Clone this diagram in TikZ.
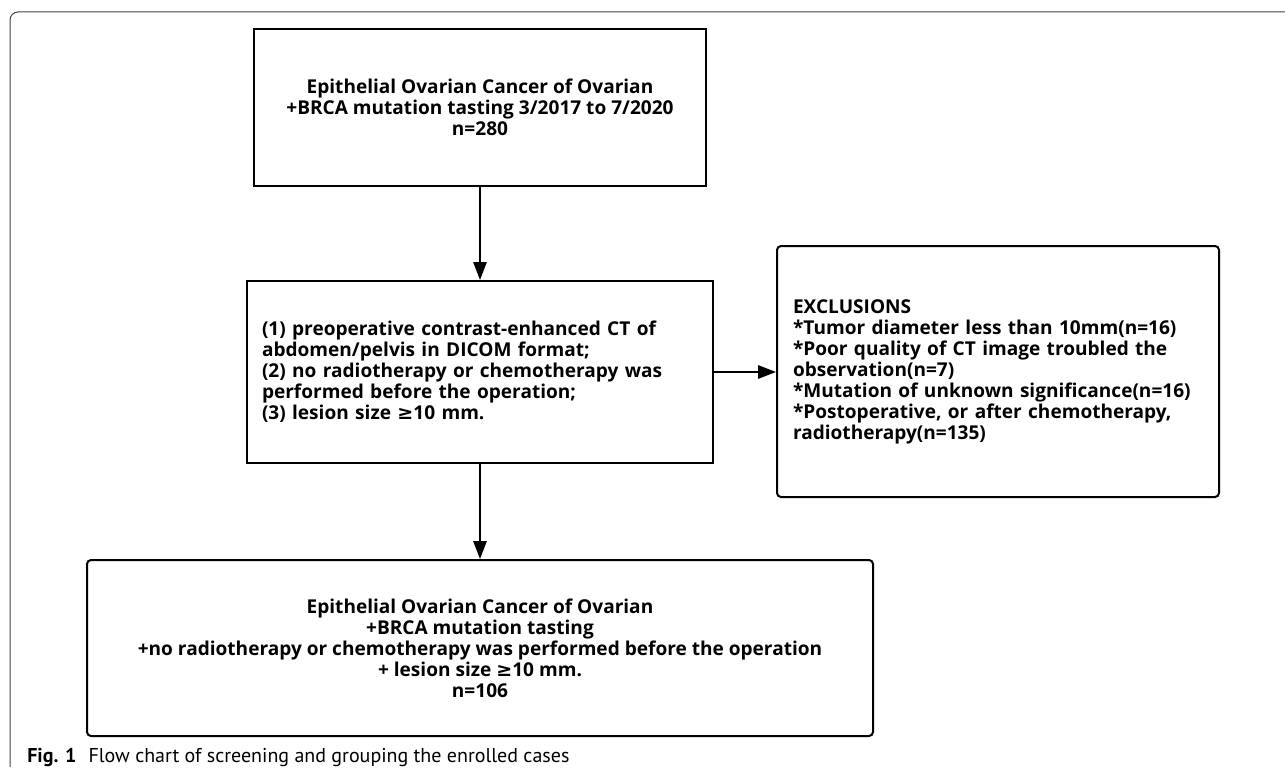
\documentclass[tikz,border=0pt]{standalone}
\usepackage{fontspec}
\setmainfont{Open Sans}
\newfontfamily\capfont{PT Sans}
\newfontfamily\symfont{DejaVu Sans}
\newcommand{\gesym}{{\symfont\bfseries ≥}}
\usepackage{tikz}
\usetikzlibrary{arrows.meta,positioning}

\begin{document}
\begin{tikzpicture}[
  x=0.75pt, y=-0.75pt,
  box/.style={draw, line width=1.5pt, inner sep=0pt, font=\fontsize{14.3}{15.75}\selectfont\bfseries},
  rbox/.style={box, rounded corners=3pt},
  edge/.style={draw, line width=1.5pt, -{Triangle[length=13.5pt,width=10pt]}}
]
\useasboundingbox (0,0) rectangle (1285,774);

% Figure frame
\draw[line width=0.75pt, black!75, rounded corners=6pt] (10,767) -- (10,12) -- (1285,12);

% Boxes
\node[box, minimum width=339pt, minimum height=117.75pt, align=center] (all) at (480,107.5)
  {Epithelial Ovarian Cancer of Ovarian\\+BRCA mutation tasting 3/2017 to 7/2020\\n=280};
\node[box, minimum height=136.5pt, inner xsep=11.25pt, text width=327pt, align=left] (crit) at (480,372)
  {(1) preoperative contrast-enhanced CT of\\abdomen/pelvis in DICOM format;\\(2) no radiotherapy or chemotherapy was\\performed before the operation;\\(3) lesion size \gesym10 mm.};
\node[rbox, minimum height=188.25pt, inner xsep=12pt, text width=307.5pt, align=left] (excl) at (998,371.5)
  {EXCLUSIONS\\{}*Tumor diameter less than 10mm(n=16)\\{}*Poor quality of CT image troubled the\\observation(n=7)\\{}*Mutation of unknown significance(n=16)\\{}*Postoperative, or after chemotherapy,\\radiotherapy(n=135)};
\node[rbox, minimum width=589.5pt, minimum height=132pt, align=center] (final) at (480,648)
  {Epithelial Ovarian Cancer of Ovarian\\+BRCA mutation tasting\\+no radiotherapy or chemotherapy was performed before the operation\\+ lesion size \gesym10 mm.\\n=106};

% Arrows
\draw[edge] (all) -- (crit);
\draw[edge] (crit.east) -- (crit.east -| excl.west);
\draw[edge] (crit) -- (final);

% Caption
\node[anchor=base west, inner sep=0pt, font=\capfont\fontsize{15}{16}\selectfont] (cap) at (27,762)
  {\textbf{Fig. 1}\hspace{0.6em}Flow chart of screening and grouping the enrolled cases};
\end{tikzpicture}
\end{document}
